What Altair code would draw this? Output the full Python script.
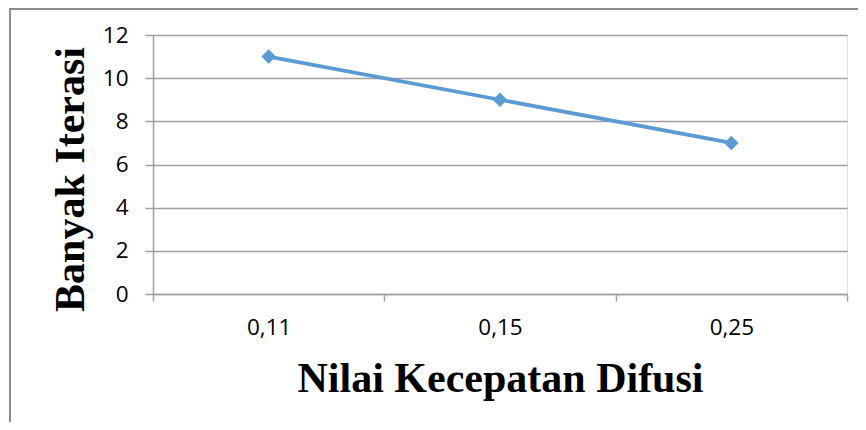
import altair as alt
import pandas as pd

categories = ["0,11", "0,15", "0,25"]
iterations = [11, 9, 7]
y_ticks = [0, 2, 4, 6, 8, 10, 12]

df = pd.DataFrame({"kecepatan": categories, "iterasi": iterations})

W, H = 694, 259
PAD_L, PAD_T = 145, 27

x_enc = alt.X(
    "kecepatan:N",
    sort=categories,
    bandPosition=0.5,
    scale=alt.Scale(type="band", paddingInner=0, paddingOuter=0),
    axis=alt.Axis(
        title="Nilai Kecepatan Difusi",
        labelAngle=0,
        tickBand="extent",
        ticks=True,
        tickSize=7,
        tickColor="#a0a0a0",
        domainColor="#a0a0a0",
        tickWidth=1.5,
        domainWidth=1.5,
        grid=False,
        labelFont="Open Sans",
        labelFontSize=22.5,
        labelColor="#000000",
        labelPadding=15,
        titleFont="Liberation Serif",
        titleFontWeight="bold",
        titleFontSize=42,
        titleColor="#000000",
        titleBaseline="alphabetic",
        titleY=97,
        titleX=W / 2,
    ),
)

y_enc = alt.Y(
    "iterasi:Q",
    scale=alt.Scale(domain=[0, 12], nice=False),
    axis=alt.Axis(
        title="Banyak Iterasi",
        values=y_ticks,
        grid=True,
        gridColor="#a0a0a0",
        gridWidth=1.5,
        tickColor="#a0a0a0",
        tickSize=8,
        tickWidth=1.5,
        domainColor="#a0a0a0",
        domainWidth=1.5,
        labelFont="Open Sans",
        labelFontSize=22.5,
        labelColor="#000000",
        labelPadding=17,
        titleFont="Liberation Serif",
        titleFontWeight="bold",
        titleFontSize=42,
        titleColor="#000000",
        titleBaseline="alphabetic",
        titleAngle=-90,
        titleX=-70,
        titleY=144,
    ),
)

line = alt.Chart(df).mark_line(
    color="#5b9bd5", strokeWidth=3.8,
    point=alt.OverlayMarkDef(shape="diamond", size=210, color="#5b9bd5", filled=True, opacity=1),
).encode(x=x_enc, y=y_enc)

border = alt.Chart(df).mark_rect(
    fill=None, stroke="#8c8c8c", strokeWidth=2, clip=False
).encode(
    x=alt.value(-143), x2=alt.value(W + 40),
    y=alt.value(-26), y2=alt.value(H + 200),
)

chart = alt.layer(border, line).properties(
    width=W,
    height=H,
    padding={"left": PAD_L, "top": PAD_T, "right": 11, "bottom": 128},
    autosize=alt.AutoSizeParams(type="none"),
).configure_view(stroke=None).configure(background="white")

chart.save("out.html", embed_options={"renderer": "svg", "actions": False})
